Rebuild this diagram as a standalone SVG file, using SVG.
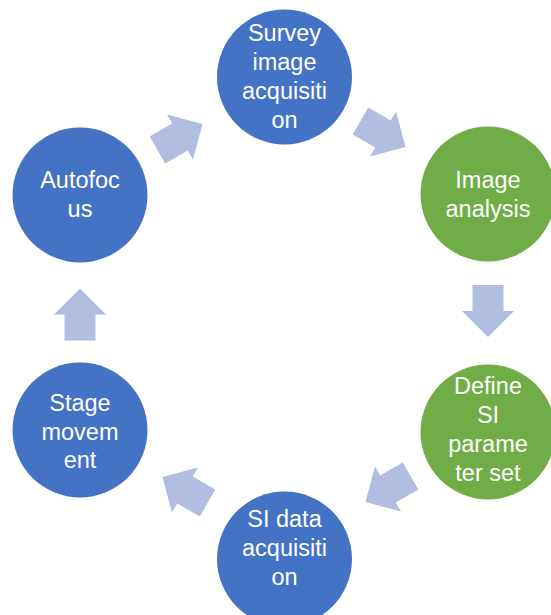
<svg xmlns="http://www.w3.org/2000/svg" width="551" height="615" viewBox="0 0 551 615">
  <style>
    .blue { fill: #4472C4; }
    .green { fill: #70AD47; }
    .label { fill: #FFFFFF; font-family: "Liberation Sans", Arial, sans-serif; font-size: 23.5px; text-anchor: middle; }
    .arrow { fill: #B0BCE0; }
  </style>
  <defs>
    <!-- block arrow pointing right, centred on the origin -->
    <polygon id="blockArrow" points="-26,-15.5 0,-15.5 0,-26 26,0 0,26 0,15.5 -26,15.5"/>
  </defs>

  <g id="connectors">
    <use href="#blockArrow" class="arrow" transform="translate(180,137) rotate(-30)"/>
    <use href="#blockArrow" class="arrow" transform="translate(383,134) rotate(30)"/>
    <use href="#blockArrow" class="arrow" transform="translate(488,311) rotate(90)"/>
    <use href="#blockArrow" class="arrow" transform="translate(388,489) rotate(150)"/>
    <use href="#blockArrow" class="arrow" transform="translate(185,490) rotate(210)"/>
    <use href="#blockArrow" class="arrow" transform="translate(80,314.5) rotate(-90)"/>
  </g>

  <g id="survey-image-acquisition">
    <circle class="blue" cx="284.5" cy="77" r="67.5"/>
    <text class="label" x="284.5" y="41">Survey</text>
    <text class="label" x="284.5" y="70">image</text>
    <text class="label" x="284.5" y="99">acquisiti</text>
    <text class="label" x="284.5" y="128">on</text>
  </g>

  <g id="image-analysis">
    <circle class="green" cx="488" cy="194" r="67.5"/>
    <text class="label" x="488" y="188">Image</text>
    <text class="label" x="488" y="217">analysis</text>
  </g>

  <g id="define-si-parameter-set">
    <circle class="green" cx="488" cy="432" r="67.5"/>
    <text class="label" x="488" y="394">Define</text>
    <text class="label" x="488" y="423">SI</text>
    <text class="label" x="488" y="452">parame</text>
    <text class="label" x="488" y="481">ter set</text>
  </g>

  <g id="si-data-acquisition">
    <circle class="blue" cx="284.5" cy="559" r="67.5"/>
    <text class="label" x="284.5" y="527">SI data</text>
    <text class="label" x="284.5" y="556">acquisiti</text>
    <text class="label" x="284.5" y="585">on</text>
  </g>

  <g id="stage-movement">
    <circle class="blue" cx="80" cy="430" r="67.5"/>
    <text class="label" x="80" y="411">Stage</text>
    <text class="label" x="80" y="440">movem</text>
    <text class="label" x="80" y="468">ent</text>
  </g>

  <g id="autofocus">
    <circle class="blue" cx="80" cy="195" r="67.5"/>
    <text class="label" x="80" y="188">Autofoc</text>
    <text class="label" x="80" y="217">us</text>
  </g>
</svg>
